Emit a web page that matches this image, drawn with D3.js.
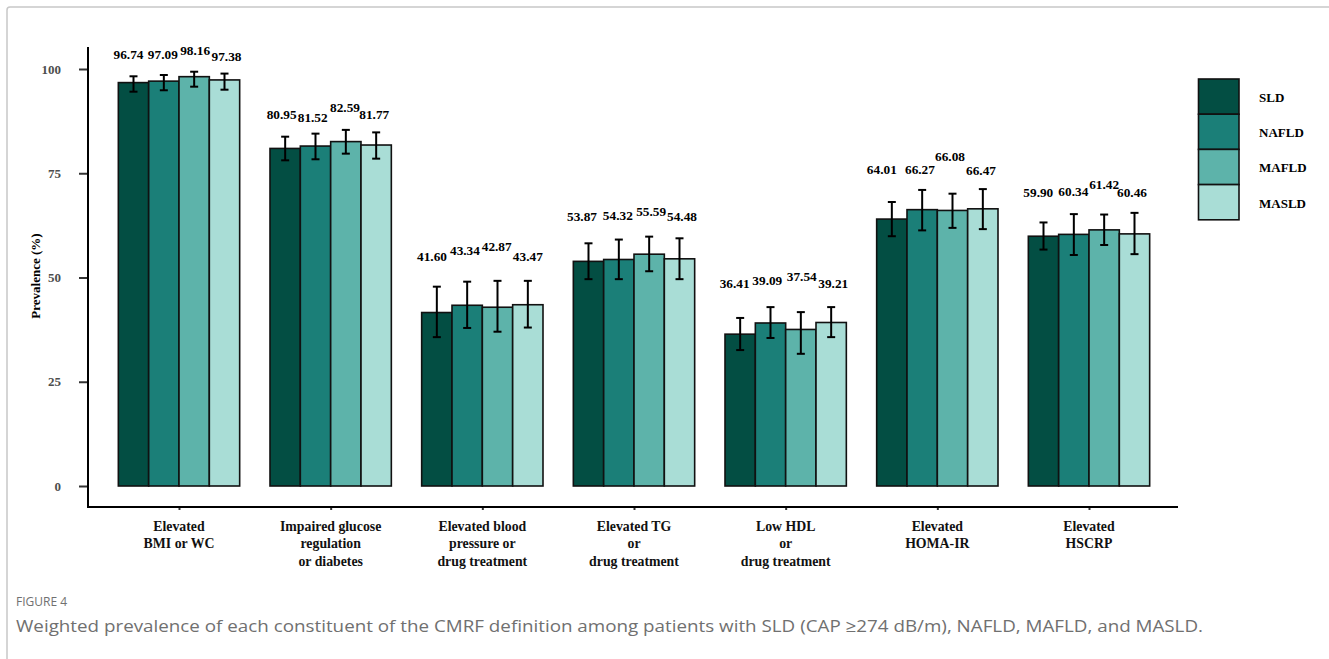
<!DOCTYPE html>
<html>
<head>
<meta charset="utf-8">
<script src="https://cdn.jsdelivr.net/npm/d3@7/dist/d3.min.js"></script>
<style>
  html, body { margin: 0; padding: 0; background: #fff; }
  svg { display: block; }
</style>
</head>
<body>
<svg id="chart" width="1329" height="659"></svg>
<script>
// Criteria (x-axis categories), each split into display lines
const categories = [
  ["Elevated", "BMI or WC"],
  ["Impaired glucose", "regulation", "or diabetes"],
  ["Elevated blood", "pressure or", "drug treatment"],
  ["Elevated TG", "or", "drug treatment"],
  ["Low HDL", "or", "drug treatment"],
  ["Elevated", "HOMA-IR"],
  ["Elevated", "HSCRP"]
];
const seriesNames = ["SLD", "NAFLD", "MAFLD", "MASLD"];

// Weighted prevalence (%) per definition
const sldValues   = [96.74, 80.95, 41.60, 53.87, 36.41, 64.01, 59.90];
const nafldValues = [97.09, 81.52, 43.34, 54.32, 39.09, 66.27, 60.34];
const mafldValues = [98.16, 82.59, 42.87, 55.59, 37.54, 66.08, 61.42];
const masldValues = [97.38, 81.77, 43.47, 54.48, 39.21, 66.47, 60.46];

// 95% confidence limits
const sldLower   = [94.56, 78.10, 35.7, 49.6, 32.6, 59.9, 56.7];
const sldUpper   = [98.25, 83.77, 47.8, 58.2, 40.3, 68.1, 63.2];
const nafldLower = [94.90, 78.35, 37.9, 49.6, 35.5, 61.3, 55.4];
const nafldUpper = [98.56, 84.50, 49.0, 59.1, 42.9, 71.0, 65.2];
const mafldLower = [95.76, 79.70, 37.0, 51.5, 31.7, 61.9, 57.8];
const mafldUpper = [99.35, 85.40, 49.2, 59.8, 41.7, 70.1, 65.1];
const masldLower = [95.04, 78.50, 38.0, 49.6, 35.7, 61.6, 55.6];
const masldUpper = [98.90, 84.80, 49.2, 59.4, 42.9, 71.2, 65.5];

const yTicks = [0, 25, 50, 75, 100];

// Layout: small offsets that keep the value labels from colliding
const labelShift = [
  [[-5, -21.6], [-3.5, -22.4], [-4.8, -30.7], [-6.5, -27], [-5.5, -35], [-10, -32.7], [-5.2, -30.6]],
  [[-1, -20.3], [-2.8, -16.7], [-2.2, -31], [-1, -24], [-3.2, -27], [-2.2, -20.7], [-0.5, -22.3]],
  [[1, -21.7], [-0.8, -22.7], [-0.8, -34.3], [2, -25], [0.9, -36], [-2.5, -37.7], [0, -29.7]],
  [[2, -17.7], [-1.9, -18], [0, -24], [2.5, -22], [2.1, -24], [-1.8, -19], [-2.5, -21]]
];

const colors = ["#034e43", "#1b7f78", "#5db3aa", "#a9ddd6"];

const values = [sldValues, nafldValues, mafldValues, masldValues];
const lowers = [sldLower, nafldLower, mafldLower, masldLower];
const uppers = [sldUpper, nafldUpper, mafldUpper, masldUpper];

const records = [];
categories.forEach((c, ci) => {
  seriesNames.forEach((s, si) => {
    records.push({
      ci, si, series: s,
      value: values[si][ci],
      lower: lowers[si][ci],
      upper: uppers[si][ci],
      shift: labelShift[si][ci]
    });
  });
});

const svg = d3.select("#chart");
const serif = "'Liberation Serif', 'Times New Roman', serif";

// Outer frame
svg.append("rect")
  .attr("x", 7).attr("y", 7)
  .attr("width", 1340).attr("height", 680)
  .attr("rx", 3)
  .attr("fill", "none")
  .attr("stroke", "#c8c8c8")
  .attr("stroke-width", 1.5);

// Panel bounds
const panel = { left: 88, right: 1180, top: 47, bottom: 507 };

// Discrete axis with 0.6-step expansion on both sides
const step = (panel.right - panel.left) / 7.2;
const groupCenter = i => panel.left + 0.6 * step + i * step;
const x1 = d3.scaleBand()
  .domain(seriesNames)
  .range([-0.4 * step, 0.4 * step]);

const y = d3.scaleLinear().domain([0, 100]).range([486, 69]);

const g = svg.append("g");

// Bars
g.selectAll("rect.bar")
  .data(records)
  .join("rect")
  .attr("class", "bar")
  .attr("x", d => groupCenter(d.ci) + x1(d.series))
  .attr("y", d => y(d.value))
  .attr("width", x1.bandwidth())
  .attr("height", d => y(0) - y(d.value))
  .attr("fill", d => colors[d.si])
  .attr("stroke", "#111")
  .attr("stroke-width", 1.6);

// Error bars
const cap = 4;
const eb = g.selectAll("g.eb")
  .data(records)
  .join("g")
  .attr("class", "eb")
  .attr("transform", d => `translate(${groupCenter(d.ci) + x1(d.series) + x1.bandwidth() / 2},0)`);
eb.append("line")
  .attr("x1", 0).attr("x2", 0)
  .attr("y1", d => y(d.lower)).attr("y2", d => y(d.upper))
  .attr("stroke", "#000").attr("stroke-width", 2);
eb.append("line")
  .attr("x1", -cap).attr("x2", cap)
  .attr("y1", d => y(d.upper)).attr("y2", d => y(d.upper))
  .attr("stroke", "#000").attr("stroke-width", 2);
eb.append("line")
  .attr("x1", -cap).attr("x2", cap)
  .attr("y1", d => y(d.lower)).attr("y2", d => y(d.lower))
  .attr("stroke", "#000").attr("stroke-width", 2);

// Value labels
g.selectAll("text.val")
  .data(records)
  .join("text")
  .attr("class", "val")
  .attr("x", d => groupCenter(d.ci) + x1(d.series) + x1.bandwidth() / 2 + d.shift[0])
  .attr("y", d => y(d.upper) + d.shift[1])
  .attr("dy", "0.35em")
  .attr("text-anchor", "middle")
  .attr("font-family", serif)
  .attr("font-weight", "bold")
  .attr("font-size", 13.3)
  .attr("fill", "#000")
  .text(d => d.value.toFixed(2));

// Y axis
const yAxis = d3.axisLeft(y).tickValues(yTicks).tickSize(9).tickPadding(0).tickFormat(d3.format("d"));
const ya = svg.append("g").attr("transform", `translate(${panel.left},0)`).call(yAxis);
ya.select(".domain").remove();
ya.selectAll(".tick line").attr("stroke", "#333").attr("stroke-width", 2);
ya.selectAll(".tick text")
  .attr("x", -27)
  .attr("font-family", serif)
  .attr("font-weight", "bold")
  .attr("font-size", 13)
  .attr("fill", "#4d4d4d");
svg.append("line")
  .attr("x1", panel.left).attr("x2", panel.left)
  .attr("y1", panel.top).attr("y2", panel.bottom + 1)
  .attr("stroke", "#000").attr("stroke-width", 2);

// X axis
const xPos = d3.scalePoint().domain(d3.range(categories.length))
  .range([groupCenter(0), groupCenter(categories.length - 1)]);
const xAxis = d3.axisBottom(xPos).tickSize(3).tickFormat(() => "");
const xa = svg.append("g").attr("transform", `translate(0,${panel.bottom})`).call(xAxis);
xa.select(".domain").remove();
xa.selectAll(".tick line").attr("stroke", "#333").attr("stroke-width", 2);
svg.append("line")
  .attr("x1", panel.left - 1).attr("x2", panel.right - 2)
  .attr("y1", panel.bottom).attr("y2", panel.bottom)
  .attr("stroke", "#000").attr("stroke-width", 2);

// Category labels
const catLabels = svg.selectAll("text.cat")
  .data(categories)
  .join("text")
  .attr("class", "cat")
  .attr("text-anchor", "middle")
  .attr("font-family", serif)
  .attr("font-weight", "bold")
  .attr("font-size", 13.8)
  .attr("fill", "#111");
catLabels.each(function (lines, i) {
  d3.select(this).selectAll("tspan")
    .data(lines)
    .join("tspan")
    .attr("x", xPos(i))
    .attr("y", (l, k) => 526 + k * 17.6)
    .attr("dy", "0.35em")
    .text(l => l);
});

// Y axis title
svg.append("text")
  .attr("transform", "translate(39.5,276) rotate(-90)")
  .attr("text-anchor", "middle")
  .attr("font-family", serif)
  .attr("font-weight", "bold")
  .attr("font-size", 13)
  .attr("fill", "#000")
  .text("Prevalence (%)");

// Legend
const legend = svg.append("g").attr("transform", "translate(1198.5,79)");
const keyH = 35.2, keyW = 40.5;
legend.selectAll("rect")
  .data(seriesNames)
  .join("rect")
  .attr("x", 0)
  .attr("y", (d, i) => i * keyH)
  .attr("width", keyW)
  .attr("height", keyH)
  .attr("fill", (d, i) => colors[i])
  .attr("stroke", "#111")
  .attr("stroke-width", 1.6);
legend.selectAll("text")
  .data(seriesNames)
  .join("text")
  .attr("x", 60.5)
  .attr("y", (d, i) => i * keyH + 18.5)
  .attr("dy", "0.35em")
  .attr("font-family", serif)
  .attr("font-weight", "bold")
  .attr("font-size", 13)
  .attr("fill", "#000")
  .text(d => d);

// Caption
svg.append("text")
  .attr("x", 16).attr("y", 606)
  .attr("font-family", "'Open Sans', 'Noto Sans', sans-serif")
  .attr("font-size", 12)
  .attr("fill", "#707070")
  .text("FIGURE 4");
svg.append("text")
  .attr("x", 16).attr("y", 632)
  .attr("font-family", "'Open Sans', 'Noto Sans', sans-serif")
  .attr("font-size", 17)
  .attr("textLength", 1187)
  .attr("lengthAdjust", "spacingAndGlyphs")
  .attr("fill", "#707070")
  .text("Weighted prevalence of each constituent of the CMRF definition among patients with SLD (CAP \u2265274 dB/m), NAFLD, MAFLD, and MASLD.");
</script>
</body>
</html>
